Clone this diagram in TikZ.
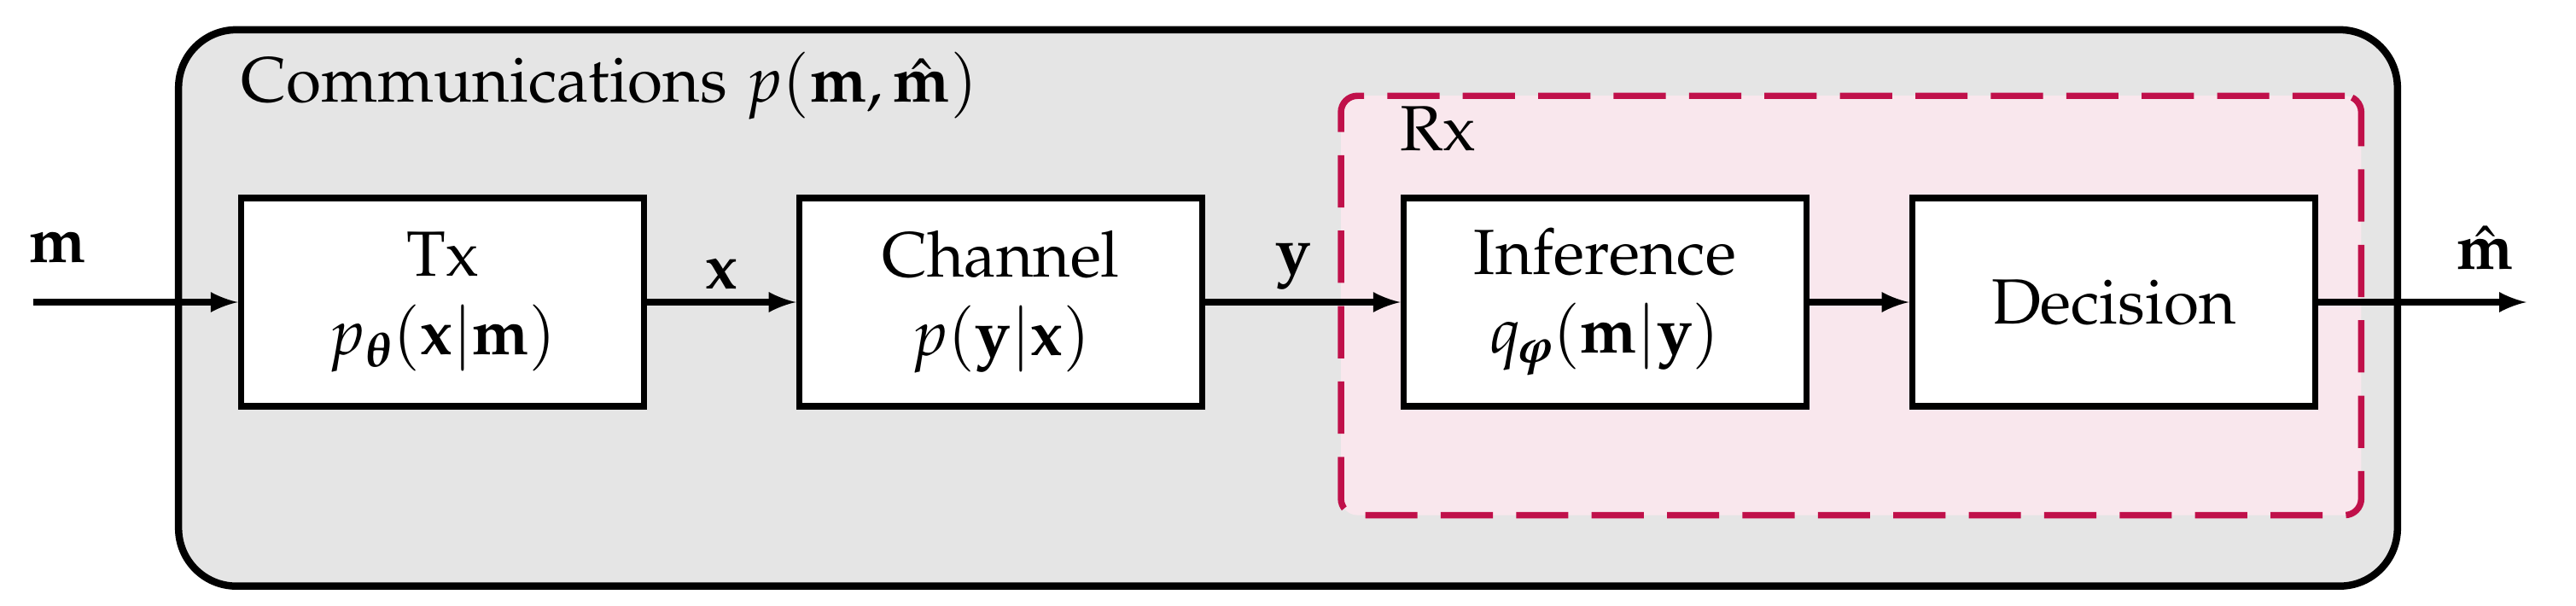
\documentclass[tikz,border=0pt]{standalone}
\usepackage[T1]{fontenc}
\usepackage{mathpazo}
\usepackage{bm}
\begin{document}
\fontencoding{T1}\fontfamily{pplx}\selectfont
\begin{tikzpicture}[x=0.02cm,y=-0.02cm,
  blk/.style={draw,line width=2.2pt,fill=white,minimum width=4.88cm,minimum height=2.52cm,align=center,font=\fontsize{22}{27}\selectfont},
  arr/.style={line width=2.2pt,-latex},
  lbl/.style={font=\fontsize{22}{27}\selectfont}]
\useasboundingbox (0,0) rectangle (1560,367);
\definecolor{rxred}{RGB}{192,16,74}
\node[draw,line width=2.5pt,fill=black!10,rounded corners=0.7cm,minimum width=26.88cm,minimum height=6.74cm] (outer) at (780,186.5) {};
\node[lbl,anchor=west] (title) at (140,52) {Communications $p(\mathbf{m},\hat{\mathbf{m}})$};
\node[draw=rxred,dashed,dash pattern=on 18pt off 8pt,line width=2.2pt,fill=rxred!10,rounded corners=0.2cm,minimum width=12.36cm,minimum height=5.08cm] (rx) at (1121,185) {};
\node[lbl,anchor=west] (rxl) at (842,78) {Rx};
\node[blk] (tx) at (268,183) {Tx\\$p_{\bm{\theta}}(\mathbf{x}|\mathbf{m})$};
\node[blk] (ch) at (606,183) {Channel\\$p(\mathbf{y}|\mathbf{x})$};
\node[blk] (inf) at (972,183) {Inference\\$q_{\bm{\varphi}}(\mathbf{m}|\mathbf{y})$};
\node[blk] (dec) at (1280,183) {Decision};
\coordinate (in) at (20,183);
\coordinate (out) at (1530,183);
\draw[arr] (in) -- (tx);
\draw[arr] (tx) -- node[lbl,above]{$\mathbf{x}$} (ch);
\draw[arr] (ch) -- node[lbl,above,pos=0.45]{$\mathbf{y}$} (inf);
\draw[arr] (inf) -- (dec);
\draw[arr] (dec) -- (out);
\node[lbl] (ml) at (35,150) {$\mathbf{m}$};
\node[lbl] (mh) at (1505,150) {$\hat{\mathbf{m}}$};
\end{tikzpicture}
\end{document}
